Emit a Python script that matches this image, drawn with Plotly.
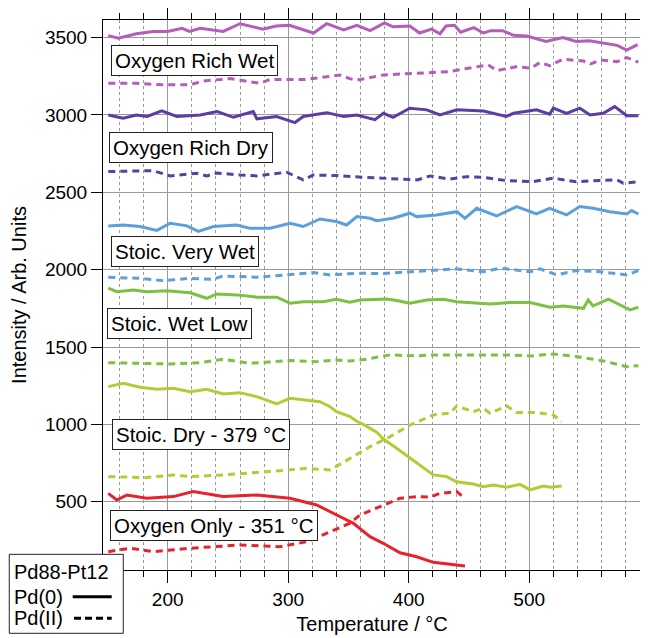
import plotly.graph_objects as go

# ---------------- data ----------------
ORW_SOLID_T = [150.7, 159, 174, 188, 200, 212, 218, 227, 246, 260, 279, 290, 301, 321, 332, 346, 357, 368, 380, 387,
               401, 409, 419, 426, 431, 438, 443, 454, 462, 468, 478, 487, 498, 514, 528, 539, 550, 561, 573, 581, 590]
ORW_SOLID_V = [3513, 3496, 3525, 3540, 3540, 3560, 3540, 3560, 3540, 3590, 3555, 3575, 3580, 3530, 3590, 3550, 3580, 3545, 3595, 3570,
               3575, 3530, 3555, 3525, 3575, 3580, 3535, 3565, 3530, 3545, 3545, 3515, 3510, 3475, 3500, 3475, 3480, 3465, 3450, 3420, 3455]
ORW_DASH_T = [150.7, 174, 196, 218.5, 229.6, 251.7, 276.6, 284.9, 315, 343, 351, 357, 379, 407, 434, 448, 466, 473, 490, 501,
              509, 517, 528, 545, 551, 559, 573, 581, 590.6]
ORW_DASH_V = [3205, 3205, 3195, 3195, 3220, 3235, 3205, 3230, 3230, 3258, 3235, 3225, 3259, 3270, 3280, 3300, 3324, 3287, 3313, 3302,
              3339, 3319, 3360, 3349, 3330, 3356, 3345, 3371, 3341]

ORD_SOLID_T = [150.7, 163, 174, 183, 195, 207.5, 227, 241, 254.5, 271, 274, 290.5, 305.6, 312.5, 332, 346, 357, 372, 379, 387,
               401, 415, 426, 440, 462, 481, 487, 506, 517, 520, 531, 542, 550.5, 561.5, 571, 581, 590.6]
ORD_SOLID_V = [3000, 2979, 3000, 2990, 3026, 2990, 3000, 3022, 2985, 3022, 2975, 2990, 2951, 2990, 3015, 2990, 3000, 2970, 3011, 2985,
               3044, 3033, 3000, 3033, 3025, 2990, 3011, 3033, 3005, 3044, 3011, 3044, 3000, 3011, 3054, 2995, 2995]
ORD_DASH_T = [150.7, 188, 202, 224, 232.4, 240.7, 260, 274, 298.7, 312.5, 320.8, 343, 354, 376, 407, 418, 434, 448, 462, 481,
              503, 520, 539, 559, 573, 578, 590.6]
ORD_DASH_V = [2634, 2640, 2606, 2623, 2606, 2625, 2612, 2606, 2630, 2580, 2612, 2608, 2601, 2591, 2580, 2606, 2585, 2601, 2597, 2576,
              2569, 2591, 2569, 2576, 2580, 2559, 2569]

SVW_SOLID_T = [150.7, 163, 177, 191, 202, 216, 225.4, 238, 257, 268, 285, 301.5, 312.5, 326.4, 340, 348.5, 357, 368, 373.4, 387,
               401, 406.6, 423, 440, 446.7, 456.4, 473, 489.6, 506, 517, 531, 542, 553, 567, 581, 585, 590.6]
SVW_SOLID_V = [2283, 2289, 2279, 2254, 2300, 2283, 2247, 2279, 2289, 2268, 2268, 2300, 2279, 2328, 2311, 2289, 2343, 2332, 2317, 2332,
               2365, 2343, 2354, 2375, 2332, 2397, 2347, 2408, 2360, 2397, 2354, 2408, 2397, 2375, 2360, 2382, 2360]
SVW_DASH_T = [150.7, 177, 196.4, 218.5, 237.8, 246, 274, 301.5, 320.8, 334.7, 356.8, 379, 401, 415, 440, 462, 476, 501, 509,
              523, 539, 559, 581, 590.6]
SVW_DASH_V = [1951, 1944, 1929, 1944, 1938, 1959, 1951, 1966, 1981, 1966, 1977, 1975, 1987, 1994, 2005, 1987, 2009, 1987, 2005,
              1966, 1994, 1987, 1966, 1994]

SWL_SOLID_T = [150.7, 157.7, 171.5, 182.6, 199.2, 218.5, 232.4, 240.7, 257.2, 274, 290.5, 301.5, 312.5, 329, 340, 351, 359.6, 381.7,
               390, 401, 415, 428.7, 439.8, 467.5, 484, 500.7, 517.3, 528.3, 545, 549, 553, 565.7, 572.6, 583.7, 590.6]
SWL_SOLID_V = [1880, 1858, 1869, 1858, 1864, 1851, 1815, 1843, 1837, 1822, 1822, 1783, 1793, 1793, 1809, 1790, 1804, 1811,
               1800, 1783, 1804, 1809, 1793, 1778, 1787, 1787, 1757, 1765, 1750, 1804, 1765, 1809, 1783, 1740, 1757]
SWL_DASH_T = [150.7, 177, 201.9, 226.8, 246.1, 268.3, 284.9, 301.5, 323.6, 340.2, 351.3, 365, 384.5, 406.6, 420.4, 439.8, 461.9,
              484, 500.7, 520, 539.4, 561.5, 580.9, 590.6]
SWL_DASH_V = [1399, 1395, 1390, 1399, 1421, 1395, 1405, 1412, 1405, 1416, 1410, 1421, 1449, 1442, 1449, 1449, 1453,
              1449, 1442, 1455, 1438, 1410, 1373, 1379]

SD_SOLID_T = [150.7, 163.2, 177, 190.9, 204.6, 218.5, 232.4, 246.1, 260, 274, 290.5, 301.5, 326.4, 334.7, 340.2, 351.3, 356.8,
              362.3, 373.4, 379, 390, 401.1, 412.1, 420.4, 431.5, 439.8, 453.6, 461.9, 470.2, 481.3, 492.4, 500.7, 511.7, 517.3, 527]
SD_SOLID_V = [1244, 1266, 1240, 1227, 1233, 1211, 1227, 1196, 1205, 1179, 1132, 1168, 1146, 1114, 1082, 1050, 1020,
              1000, 950, 905, 845, 781, 716, 673, 662, 629, 614, 597, 608, 593, 612, 576, 601, 593, 601]
SD_DASH_T = [150.7, 182.6, 204.6, 218.5, 246.1, 274, 295.9, 315.3, 334.7, 351.3, 367.9, 384.5, 401.1, 420.4, 434.3, 439.8,
             453.6, 461.9, 467.5, 481.3, 489.6, 506.2, 520, 527]
SD_DASH_V = [662, 656, 673, 662, 673, 688, 702, 716, 705, 780, 856, 920, 996, 1061, 1072, 1119,
             1082, 1104, 1072, 1119, 1076, 1076, 1061, 1017]

OO_SOLID_T = [150.7, 157.7, 166, 182.6, 204.6, 221.2, 246.1, 274, 301.5, 323.6, 345.7, 354.1, 367.9, 378.9, 392.8, 406.6,
              420.4, 439.8, 446.7]
OO_SOLID_V = [554, 511, 543, 522, 533, 565, 533, 543, 522, 479, 393, 360, 274, 231, 170, 144, 108, 91, 84]
OO_DASH_T = [150.7, 168.7, 188.1, 218.5, 260, 293.2, 315.3, 334.7, 351.3, 359.6, 370, 376.2, 392.8, 406.6, 417.7, 426,
             439.8, 446.7]
OO_DASH_V = [177, 199, 177, 199, 220, 209, 241, 306, 361, 414, 450, 468, 522, 533, 529, 554, 565, 522]

SERIES = [
    ("Oxygen Rich Wet", "#B45DB9", ORW_SOLID_T, ORW_SOLID_V, ORW_DASH_T, ORW_DASH_V),
    ("Oxygen Rich Dry", "#5B3EA3", ORD_SOLID_T, ORD_SOLID_V, ORD_DASH_T, ORD_DASH_V),
    ("Stoic. Very Wet", "#5B9FDC", SVW_SOLID_T, SVW_SOLID_V, SVW_DASH_T, SVW_DASH_V),
    ("Stoic. Wet Low", "#7DC142", SWL_SOLID_T, SWL_SOLID_V, SWL_DASH_T, SWL_DASH_V),
    ("Stoic. Dry - 379 °C", "#B7C934", SD_SOLID_T, SD_SOLID_V, SD_DASH_T, SD_DASH_V),
    ("Oxygen Only - 351 °C", "#E3252B", OO_SOLID_T, OO_SOLID_V, OO_DASH_T, OO_DASH_V),
]

# label box positions (paper coords): left edge, vertical centre
LABEL_POS = [(0.0143, 0.9255), (0.0112, 0.7673), (0.0143, 0.5782),
             (0.0074, 0.4482), (0.0162, 0.2464), (0.0130, 0.0818)]

FONT = "Liberation Sans, Arial, sans-serif"

fig = go.Figure()
for name, color, st, sv, dt, dv in SERIES:
    fig.add_trace(go.Scatter(x=dt, y=dv, mode="lines", name=name + " Pd(II)",
                             line=dict(color=color, width=3, dash="7px,5px"), showlegend=False))
    fig.add_trace(go.Scatter(x=st, y=sv, mode="lines", name=name + " Pd(0)",
                             line=dict(color=color, width=3), showlegend=False))

annotations = []
for (name, *_), (lx, ly) in zip(SERIES, LABEL_POS):
    annotations.append(dict(text=name, x=lx, y=ly, xref="paper", yref="paper",
                            xanchor="left", yanchor="middle", showarrow=False,
                            font=dict(size=20.5, color="black", family=FONT),
                            bgcolor="white", bordercolor="#222", borderwidth=1, borderpad=3))

# legend block
for txt, ly in [("Pd88-Pt12", -0.0031), ("Pd(0)", -0.0485), ("Pd(II)", -0.0878)]:
    annotations.append(dict(text=txt, x=-0.170, y=ly, xref="paper", yref="paper",
                            xanchor="left", yanchor="middle", showarrow=False,
                            font=dict(size=20, color="black", family=FONT)))

shapes = [
    dict(type="rect", xref="paper", yref="paper", x0=-0.1742, x1=0.0377, y0=-0.1151, y1=0.0285,
         fillcolor="white", line=dict(color="#222", width=1), layer="above"),
    dict(type="line", xref="paper", yref="paper", x0=-0.0563, x1=0.0162, y0=-0.0485, y1=-0.0485,
         line=dict(color="black", width=3), layer="above"),
    dict(type="line", xref="paper", yref="paper", x0=-0.0539, x1=0.0162, y0=-0.0878, y1=-0.0878,
         line=dict(color="black", width=3, dash="7px,4px"), layer="above"),
]

# the page body adds an 8px offset, so the margins are set 8px smaller on the left/top
fig.update_layout(
    width=648, height=638,
    margin=dict(l=95, r=15, t=12, b=76, autoexpand=False),
    paper_bgcolor="white", plot_bgcolor="white",
    font=dict(family=FONT, color="black", size=19),
    annotations=annotations, shapes=shapes,
    showlegend=False,
)
fig.update_xaxes(
    automargin=False,
    range=[146.3, 592.8], tick0=0, dtick=100,
    ticks="outside", ticklen=12, tickwidth=1, tickcolor="black",
    showline=True, linecolor="black", linewidth=1, mirror="ticks",
    showgrid=True, gridcolor="#9a9a9a", gridwidth=1, zeroline=False,
    tickfont=dict(size=19),
    minor=dict(dtick=20, tick0=0, ticks="outside", ticklen=6, tickcolor="black",
               showgrid=True, gridcolor="#9a9a9a", griddash="dot", gridwidth=1),
    title=dict(text="Temperature / °C", font=dict(size=20), standoff=8),
)
fig.update_yaxes(
    automargin=False,
    range=[58.4, 3614], tick0=0, dtick=500,
    ticks="outside", ticklen=11, tickwidth=1, tickcolor="black",
    showline=True, linecolor="black", linewidth=1, mirror="ticks",
    showgrid=True, gridcolor="#9a9a9a", gridwidth=1, zeroline=False,
    tickfont=dict(size=19),
    title=dict(text="Intensity / Arb. Units", font=dict(size=20), standoff=16),
)

fig.write_html("out.html")
